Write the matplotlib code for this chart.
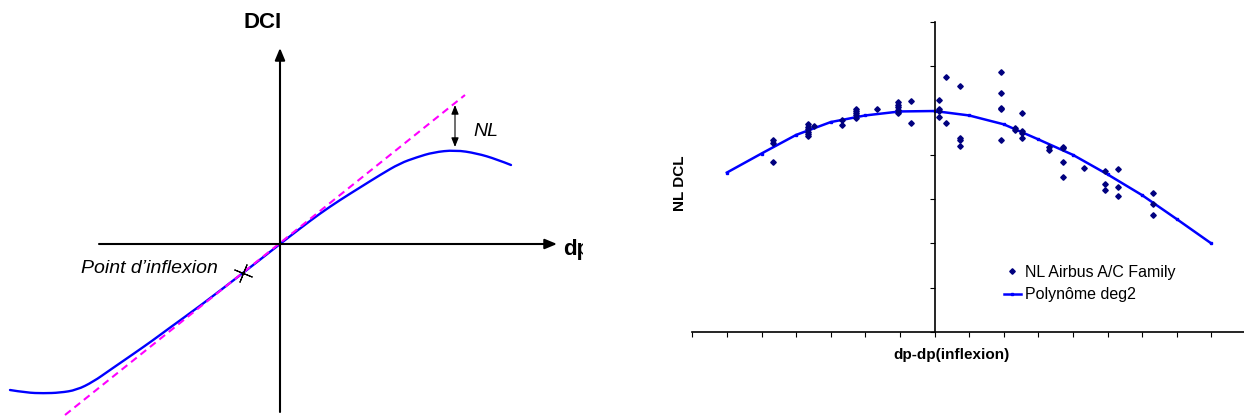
import matplotlib
matplotlib.use("Agg")
import matplotlib.pyplot as plt
from matplotlib.path import Path
from matplotlib.patches import PathPatch

plt.rcParams["font.family"] = ["Liberation Sans", "DejaVu Sans"]

# ---------------- schematic (left) ----------------
# coordinates relative to the axes crossing
curve_x = [-270, -253.3, -236.7, -220, -203.3, -186.7, -170, -146.7, -126.7, -113.3,
           -80, -37, 0, 20, 40, 60, 80, 100, 120, 136.7, 153.3, 175, 196.7, 216.7, 231]
curve_y = [-146, -148.7, -149.3, -148.7, -146, -137.7, -126, -110, -96, -86,
           -62, -29, 0, 15.5, 30.5, 44, 56.5, 69, 80.7, 86.7, 91.7, 94, 90.7, 84.7, 79]
tangent_x = [-215, 185]
tangent_y = [-171, 149]
inflexion_x = [-37]
inflexion_y = [-29]
nl_x = 175
nl_top, nl_bottom = 139, 97

# ---------------- NL DCL scatter (right) ----------------
pts_x = [-4.66, -4.66, -4.66,
         -3.66, -3.66, -3.66, -3.66, -3.66, -3.66,
         -3.47,
         -2.66, -2.66,
         -2.28, -2.28, -2.28, -2.28, -2.28,
         -1.67,
         -1.06, -1.06, -1.06, -1.06, -1.06,
         -0.67, -0.67,
         0.13, 0.13, 0.13, 0.13,
         0.33, 0.33,
         0.73, 0.73, 0.73, 0.73,
         1.93, 1.93, 1.93, 1.93, 1.93,
         2.33, 2.33,
         2.53, 2.53, 2.53, 2.53,
         3.32, 3.32,
         3.72, 3.72, 3.72, 3.72,
         4.32,
         4.93, 4.93, 4.93,
         5.31, 5.31, 5.31,
         6.32, 6.32, 6.32]
pts_y = [4.33, 4.26, 3.84,
         4.70, 4.64, 4.58, 4.52, 4.47, 4.42,
         4.66,
         4.79, 4.68,
         5.03, 4.99, 4.94, 4.89, 4.84,
         5.03,
         5.19, 5.13, 5.08, 5.02, 4.95,
         5.21, 4.71,
         5.23, 5.04, 4.99, 4.85,
         5.75, 4.71,
         5.56, 4.39, 4.33, 4.21,
         5.86, 5.40, 5.06, 5.04, 4.33,
         4.61, 4.56,
         4.94, 4.54, 4.49, 4.37,
         4.17, 4.12,
         4.17, 4.15, 3.84, 3.51,
         3.70,
         3.63, 3.35, 3.20,
         3.67, 3.27, 3.08,
         3.13, 2.89, 2.64]
poly_x = [-6, -5, -4, -3, -2, -1, 0, 1, 2, 3, 4, 5, 6, 7, 8]
poly_y = [3.60, 4.03, 4.45, 4.74, 4.89, 4.98, 4.99, 4.89, 4.69, 4.35, 4.00, 3.56, 3.09, 2.55, 2.00]
x_ticks = list(range(-7, 9))
y_ticks = list(range(0, 8))

W, H = 1244, 416
fig = plt.figure(figsize=(W / 100, H / 100), dpi=100)


def fx(px):
    return px / W


def fy(py):
    return 1 - py / H


def smooth_path(xs, ys):
    """Quadratic B-spline path through the midpoints of the given polyline."""
    pts = list(zip(xs, ys))
    verts = [pts[0]]
    codes = [Path.MOVETO]
    for i in range(1, len(pts) - 1):
        mid = ((pts[i][0] + pts[i + 1][0]) / 2, (pts[i][1] + pts[i + 1][1]) / 2)
        if i == len(pts) - 2:
            mid = pts[-1]
        verts += [pts[i], mid]
        codes += [Path.CURVE3, Path.CURVE3]
    return Path(verts, codes)


# left schematic axes: one data unit per pixel, crossing at (280, 244)
axl = fig.add_axes([0, 0, 583 / W, 1])
axl.set_xlim(-280, 303)
axl.set_ylim(-172, 244)
axl.axis("off")

axl.plot(tangent_x, tangent_y, color="#ff00ff", lw=1.5, dashes=(3.5, 2.3))
axl.add_patch(PathPatch(smooth_path(curve_x, curve_y), facecolor="none",
                        edgecolor="#0000ff", lw=1.7, capstyle="round",
                        joinstyle="round"))

axis_style = "-|>,head_length=0.6,head_width=0.25"
axl.annotate("", xy=(277, 0), xytext=(-181, 0),
             arrowprops=dict(arrowstyle=axis_style, mutation_scale=12, lw=1.5,
                             color="black", shrinkA=0, shrinkB=0))
axl.annotate("", xy=(0, 196), xytext=(0, -168),
             arrowprops=dict(arrowstyle=axis_style, mutation_scale=12, lw=1.5,
                             color="black", shrinkA=0, shrinkB=0))
axl.annotate("", xy=(nl_x, nl_top), xytext=(nl_x, nl_bottom),
             arrowprops=dict(arrowstyle="<|-|>,head_length=0.5,head_width=0.2",
                             mutation_scale=11, lw=0.8, color="black",
                             shrinkA=0, shrinkB=0))

axl.plot(inflexion_x, inflexion_y, linestyle="none", marker=(4, 2, -22),
         markersize=14, markeredgewidth=0.8, color="black")

axl.text(-17, 215.7, "DCI", fontsize=16, fontweight="bold", ha="center",
         va="baseline")
t_dp = axl.text(283, -11, "dp", fontsize=16, fontweight="bold", ha="left",
                va="baseline", clip_on=True)
t_dp.set_clip_path(axl.patch)
axl.text(218 - 280, 244 - 272.7, "Point d\u2019inflexion", fontsize=14,
         fontstyle="italic", ha="right", va="baseline")
axl.text(473 - 280, 244 - 136, "NL", fontsize=14, fontstyle="italic",
         ha="left", va="baseline")

# right chart axes
x0_px, x1_px = 692.3, 1244
y0_px, y1_px = 332, 22
unit = 34.6
axr = fig.add_axes([fx(x0_px), fy(y0_px), (x1_px - x0_px) / W, (y0_px - y1_px) / H])
axr.set_xlim(-7, -7 + (x1_px - x0_px) / unit)
axr.set_ylim(0, 7)
for side in ("top", "right"):
    axr.spines[side].set_visible(False)
axr.spines["left"].set_position(("data", 0))
axr.spines["left"].set_linewidth(1.2)
axr.spines["bottom"].set_linewidth(1.2)
axr.set_xticks(x_ticks)
axr.set_yticks(y_ticks)
axr.tick_params(axis="x", direction="out", length=3.6, width=0.8,
                labelbottom=False)
axr.tick_params(axis="y", direction="out", length=3.6, width=0.8,
                labelleft=False)
axr.patch.set_alpha(0)

axr.plot(pts_x, pts_y, linestyle="none", marker="D", markersize=2.8,
         color="#00007f", label="NL Airbus A/C Family", zorder=3, clip_on=False)
axr.plot(poly_x, poly_y, color="#0000ff", lw=1.8, marker="s", markersize=2,
         label="Polyn\u00f4me deg2", zorder=2)

axr.legend(loc="upper left", bbox_to_anchor=(fx(1004), fy(265)),
           bbox_transform=fig.transFigure, frameon=False, fontsize=11.5,
           handlelength=1.05, handletextpad=0.25, labelspacing=0.45,
           borderpad=0, borderaxespad=0, numpoints=1)

fig.text(fx(951), fy(359), "dp-dp(inflexion)", fontsize=11, fontweight="bold",
         ha="center", va="baseline")
fig.text(fx(680), fy(183), "NL DCL", fontsize=11, fontweight="bold",
         rotation=90, ha="center", va="center")

fig.savefig("out.png", dpi=100)
